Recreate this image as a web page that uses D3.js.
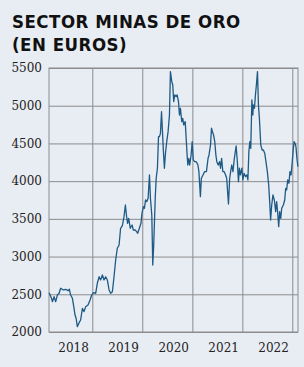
<!DOCTYPE html>
<html>
<head>
<meta charset="utf-8">
<style>
    body { margin: 0; background: #e8ecf3; }
    svg { display: block; }
    .title { font-family: "Liberation Sans Narrow", "DejaVu Sans Condensed", sans-serif; font-weight: bold; font-size: 18.5px; letter-spacing: 0.5px; fill: #111; }
    .axis text { font-family: "DejaVu Serif", serif; font-size: 12px; fill: #222; }
    .grid line { stroke: #8c8c8c; stroke-width: 1; }
    .domain { display: none; }
</style>
</head>
<body>
<svg width="304" height="367"></svg>
<script src="https://d3js.org/d3.v7.min.js"></script>
<script>
// fechas y cotización (euros)
const dates = [
  "2018-02-16","2018-03-05","2018-03-12","2018-03-24","2018-04-05","2018-04-17","2018-04-30","2018-05-11",
  "2018-05-31","2018-06-17","2018-07-04","2018-07-14","2018-07-23","2018-08-05","2018-08-17","2018-08-24",
  "2018-09-01","2018-09-10","2018-09-23","2018-10-04","2018-10-17","2018-10-29","2018-11-10","2018-11-27",
  "2018-12-12","2018-12-24",
  "2019-01-06","2019-01-22","2019-02-03","2019-02-16","2019-02-27","2019-03-12","2019-03-24","2019-04-05",
  "2019-04-17","2019-04-30","2019-05-11","2019-05-24","2019-06-05","2019-06-17","2019-06-29","2019-07-12",
  "2019-07-23","2019-08-05","2019-08-17","2019-08-27","2019-09-05","2019-09-12","2019-09-20","2019-10-02",
  "2019-10-15","2019-10-24","2019-11-06","2019-11-17","2019-11-25","2019-12-07","2019-12-19","2019-12-26",
  "2020-01-06","2020-01-13","2020-01-21","2020-01-30","2020-02-09","2020-02-19","2020-02-26","2020-03-07",
  "2020-03-14","2020-03-21","2020-04-01","2020-04-08","2020-04-17","2020-04-25","2020-05-02","2020-05-09",
  "2020-05-17","2020-05-24","2020-05-31","2020-06-07","2020-06-15","2020-06-24","2020-07-04","2020-07-14",
  "2020-07-21","2020-07-31","2020-08-07","2020-08-14","2020-08-22","2020-09-01","2020-09-08","2020-09-18",
  "2020-09-25","2020-10-02","2020-10-12","2020-10-19","2020-10-26","2020-11-06","2020-11-13","2020-11-20",
  "2020-11-25","2020-12-02","2020-12-09","2020-12-19","2020-12-27",
  "2021-01-04","2021-01-14","2021-01-26","2021-02-07","2021-02-14","2021-02-25","2021-03-04","2021-03-16",
  "2021-03-28","2021-04-10","2021-04-22","2021-04-29","2021-05-10","2021-05-17","2021-05-24","2021-06-01",
  "2021-06-10","2021-06-18","2021-06-25","2021-07-05","2021-07-15","2021-07-22","2021-07-30","2021-08-08",
  "2021-08-18","2021-08-28","2021-09-05","2021-09-18","2021-09-27","2021-10-04","2021-10-12","2021-10-21",
  "2021-10-31","2021-11-13","2021-11-22","2021-11-30","2021-12-07","2021-12-14","2021-12-25",
  "2022-01-01","2022-01-10","2022-01-20","2022-01-30","2022-02-07","2022-02-14","2022-02-21","2022-02-28",
  "2022-03-08","2022-03-15","2022-03-19","2022-03-27","2022-04-03","2022-04-10","2022-04-18","2022-04-25",
  "2022-05-02","2022-05-12","2022-05-22","2022-05-31","2022-06-10","2022-06-19","2022-06-29","2022-07-09",
  "2022-07-16","2022-07-23","2022-07-31","2022-08-09","2022-08-19","2022-08-29","2022-09-05","2022-09-13",
  "2022-09-20","2022-09-27","2022-10-05","2022-10-12","2022-10-24","2022-11-03","2022-11-10","2022-11-17",
  "2022-11-25","2022-12-04","2022-12-11","2022-12-19","2022-12-26",
  "2023-01-03","2023-01-10","2023-01-17","2023-01-24","2023-01-31","2023-02-07"
]
const values = [
  2521,2447,2402,2468,2402,2490,2513,2580,
  2557,2566,2548,2566,2490,2447,2314,2225,
  2182,2071,2124,2159,2314,2270,2336,2358,
  2424,2490,
  2521,2513,2646,2733,2690,2756,2690,2733,
  2690,2557,2513,2534,2733,2955,3110,3154,
  3375,3410,3529,3684,3529,3441,3507,3375,
  3419,3352,3352,3330,3309,3375,3441,3574,
  3661,3640,3750,3728,3773,4082,3773,3551,
  2888,3154,3773,4038,4171,4590,4590,4634,
  4921,4656,4391,4171,4370,4523,4656,4877,
  5452,5319,5275,5054,5143,5120,5143,5054,
  4877,4966,4789,4833,4745,4789,4568,4347,
  4214,4303,4214,4347,4523,
  4281,4258,4258,4214,4126,3795,4038,4082,
  4126,4126,4303,4347,4480,4701,4656,4612,
  4523,4347,4258,4214,4258,4171,4303,4126,
  4126,4082,4038,3697,4038,4126,4214,4126,
  4303,4466,4258,3993,4171,4082,4171,
  4016,4104,4060,4082,4016,4391,4523,4435,
  5077,4877,5010,4966,5143,5275,5452,5010,
  4833,4480,4413,4413,4370,4258,4126,3949,
  3728,3485,3684,3817,3750,3595,3728,3574,
  3396,3595,3507,3640,3684,3750,3905,3883,
  4016,3972,4126,4082,4214,
  4391,4523,4502,4457,4303,4192
]
const yTicks = [2000, 2500, 3000, 3500, 4000, 4500, 5000, 5500]
const yearLabels = ["2018", "2019", "2020", "2021", "2022"]
const yearLines = ["2019-01-01", "2020-01-01", "2021-01-01", "2022-01-01", "2023-01-01"]

const parse = d3.timeParse("%Y-%m-%d")
const data = dates.map((d, i) => ({ date: parse(d), value: values[i] }))

const margin = { top: 68, right: 6, bottom: 35, left: 49 }
const width = 304, height = 367

const svg = d3.select("svg")

svg.append("text").attr("class", "title").attr("x", 12).attr("y", 28).text("SECTOR MINAS DE ORO")
svg.append("text").attr("class", "title").attr("x", 12).attr("y", 51).text("(EN EUROS)")

const x = d3.scaleTime()
    .domain([parse("2018-02-15"), parse("2023-02-08")])
    .range([margin.left, width - margin.right])

const y = d3.scaleLinear()
    .domain([2000, 5500])
    .range([height - margin.bottom, margin.top])

// horizontal grid + labels
svg.append("g")
    .attr("class", "axis grid")
    .attr("transform", `translate(${margin.left},0)`)
    .call(d3.axisLeft(y).tickValues(yTicks).tickSize(-(width - margin.right - margin.left)).tickPadding(7).tickFormat(d3.format("d")))

// vertical grid at year starts
svg.append("g")
    .attr("class", "grid")
    .selectAll("line")
    .data(yearLines.map(parse))
    .join("line")
    .attr("x1", d => x(d)).attr("x2", d => x(d))
    .attr("y1", y(2000)).attr("y2", y(5500))

// frame
svg.append("rect")
    .attr("x", margin.left).attr("y", margin.top)
    .attr("width", width - margin.right - margin.left)
    .attr("height", height - margin.bottom - margin.top)
    .attr("fill", "none").attr("stroke", "#8c8c8c")

// year labels, a bit past mid-year like the original
svg.append("g")
    .attr("class", "axis")
    .attr("transform", `translate(0,${height - margin.bottom})`)
    .call(d3.axisBottom(x)
        .tickValues(yearLabels.map(yr => parse(yr + "-08-10")))
        .tickSize(0).tickPadding(11)
        .tickFormat(d3.timeFormat("%Y")))

const line = d3.line()
    .x(d => x(d.date))
    .y(d => y(d.value))

svg.append("path")
    .datum(data)
    .attr("fill", "none")
    .attr("stroke", "#1d5a86")
    .attr("stroke-width", 1.3)
    .attr("stroke-linejoin", "round")
    .attr("d", line)
</script>
</body>
</html>
